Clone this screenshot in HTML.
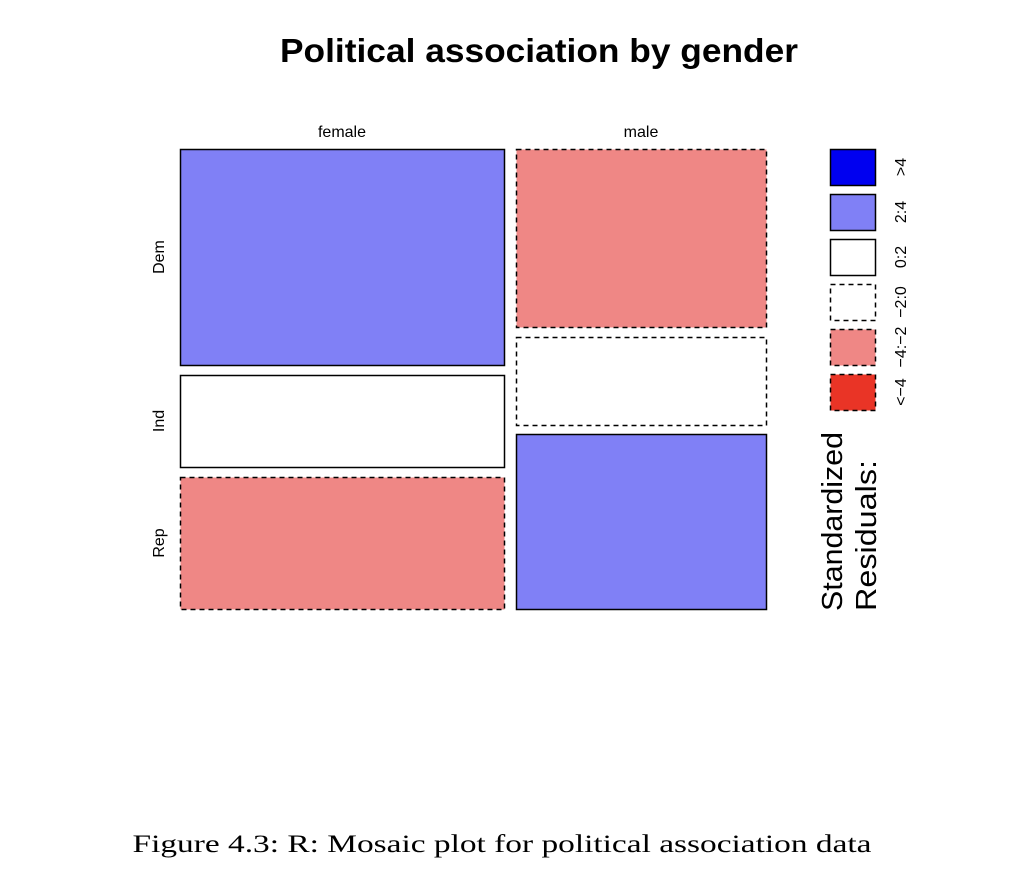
<!DOCTYPE html>
<html><head><style>body{margin:0;background:#fff}</style></head><body>
<svg width="1032" height="888" xmlns="http://www.w3.org/2000/svg" font-family="Liberation Sans, sans-serif">
<rect width="1032" height="888" fill="#fff"/>
<text x="539" y="62" font-size="33" font-weight="bold" text-anchor="middle" textLength="518" lengthAdjust="spacingAndGlyphs">Political association by gender</text>
<text x="342" y="137" font-size="16" text-anchor="middle">female</text>
<text x="641" y="137" font-size="16" text-anchor="middle">male</text>
<text transform="translate(164,257) rotate(-90)" font-size="16" text-anchor="middle">Dem</text>
<text transform="translate(164,421) rotate(-90)" font-size="16" text-anchor="middle">Ind</text>
<text transform="translate(164,543) rotate(-90)" font-size="16" text-anchor="middle">Rep</text>
<g stroke="#000" stroke-width="1.5">
<rect x="180.5" y="149.5" width="324" height="216" fill="#8080F6"/>
<rect x="180.5" y="375.5" width="324" height="92" fill="#fff"/>
<rect x="180.5" y="477.5" width="324" height="132" fill="#EF8785" stroke-dasharray="5,4"/>
<rect x="516.5" y="149.5" width="250" height="178" fill="#EF8785" stroke-dasharray="5,4"/>
<rect x="516.5" y="337.5" width="250" height="88" fill="#fff" stroke-dasharray="5,4"/>
<rect x="516.5" y="434.5" width="250" height="175" fill="#8080F6"/>
<rect x="830.5" y="149.5" width="45" height="36" fill="#0000F0"/>
<rect x="830.5" y="194.5" width="45" height="36" fill="#8080F6"/>
<rect x="830.5" y="239.5" width="45" height="36" fill="#fff"/>
<rect x="830.5" y="284.5" width="45" height="36" fill="#fff" stroke-dasharray="5,4"/>
<rect x="830.5" y="329.5" width="45" height="36" fill="#EF8785" stroke-dasharray="5,4"/>
<rect x="830.5" y="374.5" width="45" height="36" fill="#E93426" stroke-dasharray="5,4"/>
</g>
<g font-size="16" text-anchor="middle">
<text transform="translate(906,167) rotate(-90)">&gt;4</text>
<text transform="translate(906,212) rotate(-90)">2:4</text>
<text transform="translate(906,257) rotate(-90)">0:2</text>
<text transform="translate(906,302) rotate(-90)">−2:0</text>
<text transform="translate(906,347) rotate(-90)">−4:−2</text>
<text transform="translate(906,392) rotate(-90)">&lt;−4</text>
</g>
<text transform="translate(842,611) rotate(-90)" font-size="29" textLength="179" lengthAdjust="spacingAndGlyphs">Standardized</text>
<text transform="translate(876,611) rotate(-90)" font-size="29" textLength="151" lengthAdjust="spacingAndGlyphs">Residuals:</text>
<text x="502" y="852" font-size="25" font-family="Liberation Serif, serif" text-anchor="middle" textLength="739" lengthAdjust="spacingAndGlyphs">Figure 4.3: R: Mosaic plot for political association data</text>
</svg>
</body></html>
